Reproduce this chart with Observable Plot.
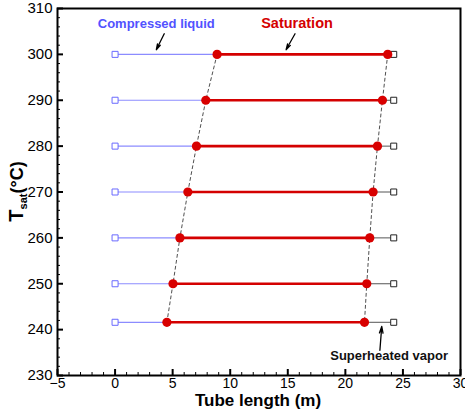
<!DOCTYPE html>
<html>
<head>
<meta charset="utf-8">
<script src="https://cdn.jsdelivr.net/npm/d3@7"></script>
<script src="https://cdn.jsdelivr.net/npm/@observablehq/plot@0.6"></script>
<style>
  html, body { margin: 0; padding: 0; background: #fff; }
  #chart svg { display: block; }
</style>
</head>
<body>
<div id="chart"></div>
<script>
// Saturation temperature of each tube run (°C)
const temps = [300, 290, 280, 270, 260, 250, 241.6];
// Tube length where saturation (boiling) begins (m)
const satStart = [8.86, 7.88, 7.07, 6.32, 5.63, 5.03, 4.5];
// Tube length where saturation ends (m)
const satEnd = [23.68, 23.22, 22.79, 22.41, 22.12, 21.86, 21.66];
// Tube inlet and outlet (m)
const inletX = [0, 0, 0, 0, 0, 0, 0];
const outletX = [24.2, 24.2, 24.2, 24.2, 24.2, 24.2, 24.2];

// Axis ticks
const xMajor = [-5, 0, 5, 10, 15, 20, 25, 30];
const xMinor = d3.range(-5, 31, 1).filter(v => v % 5 !== 0);
const yMajor = [230, 240, 250, 260, 270, 280, 290, 300, 310];
const yMinor = d3.range(230, 311, 2).filter(v => v % 10 !== 0);

// Annotation labels and arrows (data coordinates)
const labels = [
  {text: "Compressed liquid", x: 3.58, y: 306.7, color: "#5252ff", size: 13},
  {text: "Saturation", x: 15.8, y: 306.7, color: "#d40000", size: 14.5},
  {text: "Superheated vapor", x: 23.8, y: 234.2, color: "#111", size: 13}
];
const arrows = [
  {x1: 4.27, y1: 304.5, x2: 3.58, y2: 301.0},
  {x1: 15.63, y1: 304.5, x2: 14.85, y2: 301.0},
  {x1: 23.0, y1: 235.5, x2: 23.16, y2: 240.7}
];

const rows = temps.map((t, i) => ({
  T: t, x0: inletX[i], s0: satStart[i], s1: satEnd[i], x1: outletX[i]
}));

const W = 465, H = 414;
const mL = 57, mR = 5, mT = 8, mB = 39;
const frameW = W - mL - mR, frameH = H - mT - mB;

const chart = Plot.plot({
  width: W,
  height: H,
  marginLeft: mL,
  marginRight: mR,
  marginTop: mT,
  marginBottom: mB,
  style: {fontFamily: "'Liberation Sans', Arial, sans-serif", background: "#fff"},
  x: {domain: [-5, 30]},
  y: {domain: [230, 310]},
  marks: [
    Plot.axisX(xMajor, {tickSize: 0, tickPadding: 3, fontSize: 14, fill: "#000", label: null}),
    Plot.axisY(yMajor, {tickSize: 0, tickPadding: 5, fontSize: 15, fill: "#000", label: null}),
    // inward ticks
    Plot.ruleX(xMajor, {x: d => d, insetTop: frameH - 6, stroke: "#000", strokeWidth: 2}),
    Plot.ruleX(xMinor, {x: d => d, insetTop: frameH - 3, stroke: "#000", strokeWidth: 1}),
    Plot.ruleY(yMajor, {y: d => d, insetRight: frameW - 6, stroke: "#000", strokeWidth: 2}),
    Plot.ruleY(yMinor, {y: d => d, insetRight: frameW - 3, stroke: "#000", strokeWidth: 1}),
    // compressed liquid
    Plot.link(rows, {x1: "x0", x2: "s0", y1: "T", y2: "T", stroke: "#8c8cff", strokeWidth: 1.2}),
    // superheated vapor
    Plot.link(rows, {x1: "s1", x2: "x1", y1: "T", y2: "T", stroke: "#555", strokeWidth: 1}),
    // saturation boundaries
    Plot.line(rows, {x: "s0", y: "T", stroke: "#222", strokeWidth: 0.8, strokeDasharray: "3,3"}),
    Plot.line(rows, {x: "s1", y: "T", stroke: "#222", strokeWidth: 0.8, strokeDasharray: "3,3"}),
    // saturation
    Plot.link(rows, {x1: "s0", x2: "s1", y1: "T", y2: "T", stroke: "#d40000", strokeWidth: 2.6}),
    Plot.dot(rows, {x: "x0", y: "T", symbol: "square", r: 3.4, stroke: "#6a6aff", fill: "#fff", strokeWidth: 1}),
    Plot.dot(rows, {x: "x1", y: "T", symbol: "square", r: 3.4, stroke: "#222", fill: "#fff", strokeWidth: 1}),
    Plot.dot(rows, {x: "s0", y: "T", r: 4.6, fill: "#d80000"}),
    Plot.dot(rows, {x: "s1", y: "T", r: 4.6, fill: "#d80000"}),
    // annotations
    Plot.arrow(arrows, {x1: "x1", y1: "y1", x2: "x2", y2: "y2", stroke: "#000", strokeWidth: 1.3, headLength: 8, headAngle: 30, bend: 0}),
    Plot.text(labels, {x: "x", y: "y", text: "text", fill: "color", fontSize: "size", fontWeight: "bold"}),
    Plot.frame({stroke: "#000", strokeWidth: 2})
  ]
});

// Y-axis title with subscript
const svg = d3.select(chart);
const yt = svg.append("text")
  .attr("transform", `translate(23,${mT + frameH / 2}) rotate(-90)`)
  .attr("text-anchor", "middle")
  .attr("font-family", "'Liberation Sans', Arial, sans-serif")
  .attr("font-weight", "bold")
  .attr("fill", "#000");
yt.append("tspan").attr("font-size", 20).text("T");
yt.append("tspan").attr("font-size", 11).attr("dy", 4).text("sat");
yt.append("tspan").attr("font-size", 18).attr("dy", -4).text("(°C)");

// X-axis title
svg.append("text")
  .attr("x", 258).attr("y", 406)
  .attr("text-anchor", "middle")
  .attr("font-family", "'Liberation Sans', Arial, sans-serif")
  .attr("font-weight", "bold")
  .attr("font-size", 17)
  .attr("fill", "#000")
  .text("Tube length (m)");

document.getElementById("chart").appendChild(chart);
</script>
</body>
</html>
